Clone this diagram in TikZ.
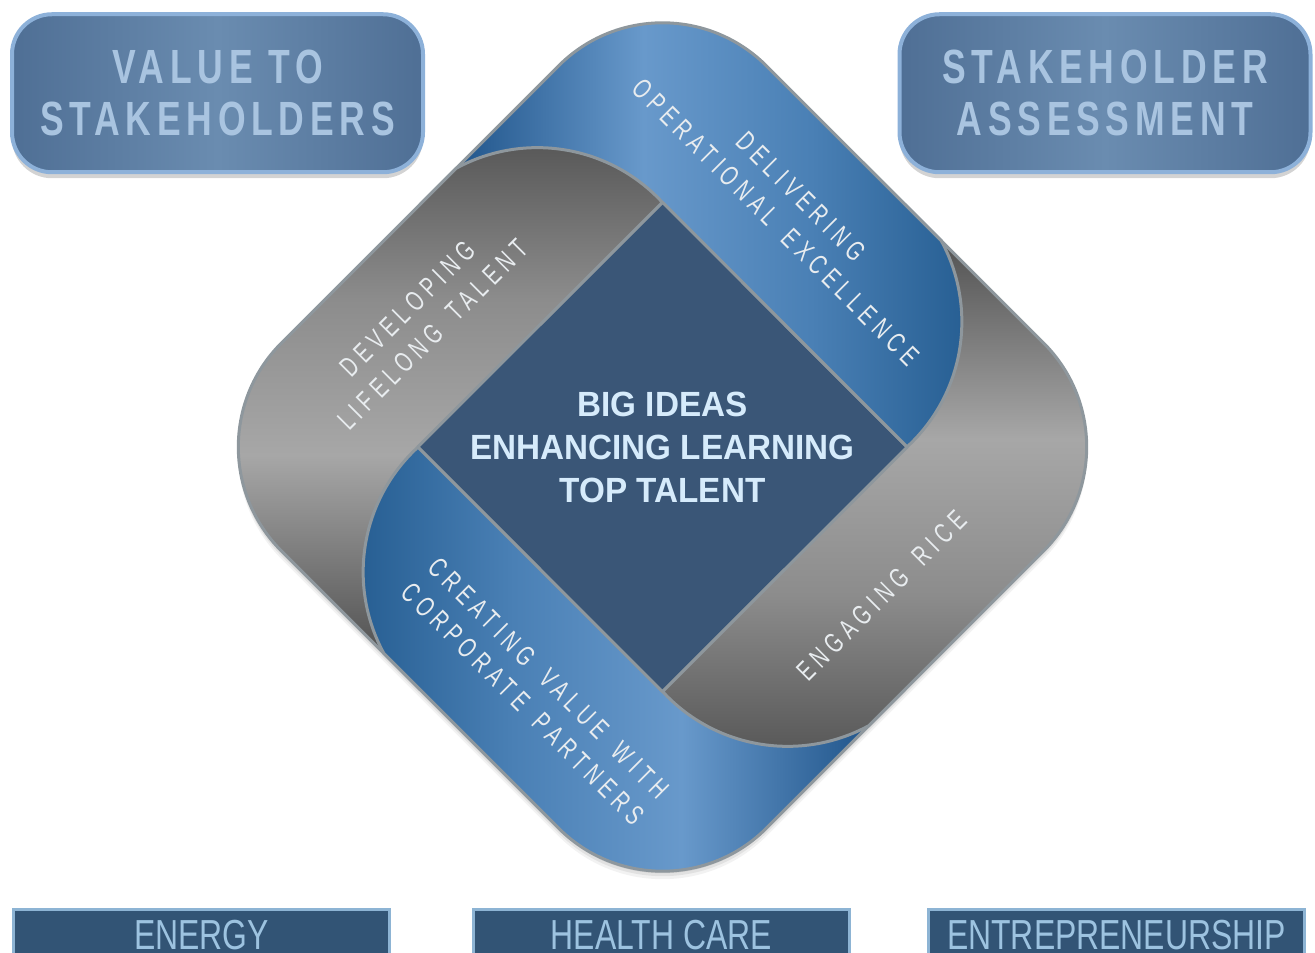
\documentclass[tikz,border=0pt]{standalone}
\usepackage{fontspec}
\setmainfont{Liberation Sans}
\newfontfamily\boxfont[FakeStretch=0.74,LetterSpace=12]{Liberation Sans}
\newfontfamily\beltfont[FakeStretch=0.7,LetterSpace=20,WordSpace=1.6]{Liberation Sans}
\newfontfamily\tagfont[FakeStretch=0.76]{Liberation Sans}
\newfontfamily\hubfont[FakeStretch=0.95]{Liberation Sans}
\usetikzlibrary{shadows}

\definecolor{squareblue}{HTML}{3A5677}
\definecolor{bdark}{HTML}{1B5086}
\definecolor{blight}{HTML}{6899CB}
\definecolor{bmid}{HTML}{4A80B5}
\definecolor{bend}{HTML}{245C90}
\definecolor{gdark}{HTML}{4C4C4C}
\definecolor{glight}{HTML}{A7A7A7}
\definecolor{gmid}{HTML}{8C8C8C}
\definecolor{gend}{HTML}{545454}
\definecolor{beltline}{HTML}{8E979D}
\definecolor{beltword}{HTML}{E8ECEF}
\definecolor{boxedge}{HTML}{8DB1D9}
\definecolor{boxword}{HTML}{A9C4E0}
\definecolor{boxside}{HTML}{4F6F95}
\definecolor{boxmid}{HTML}{6A8CB0}
\definecolor{tagfill}{HTML}{325475}
\definecolor{tagedge}{HTML}{8DB4D4}
\definecolor{tagword}{HTML}{9DC3E0}
\definecolor{hubword}{HTML}{D6EBFB}

\pgfdeclarehorizontalshading{bluebeltshade}{100bp}{color(0bp)=(bdark); color(27bp)=(bdark); color(45bp)=(blight); color(60bp)=(bmid); color(75bp)=(bend); color(100bp)=(bend)}
\pgfdeclarehorizontalshading{graybeltshade}{100bp}{color(0bp)=(gdark); color(27bp)=(gdark); color(46bp)=(glight); color(60bp)=(gmid); color(75bp)=(gend); color(100bp)=(gend)}
\pgfdeclarehorizontalshading{boxshade}{100bp}{color(0bp)=(boxside); color(25bp)=(boxside); color(50bp)=(boxmid); color(75bp)=(boxside); color(100bp)=(boxside)}

% one belt, drawn in its own frame: u along the side, v away from the hub
\newcommand{\beltpath}{(-343,0) -- (-343,196) arc[start angle=180,end angle=90,radius=147pt] -- (51,343) arc[start angle=73.6,end angle=-2.4,radius=170pt] -- (173,173) -- (-173,173) -- (-173,0) -- cycle}

\begin{document}
\begin{tikzpicture}[x=1pt,y=1pt]
\useasboundingbox (0,0) rectangle (1315,953);

\tikzstyle{bluebelt} = [draw=beltline, line width=3pt, line join=round, shading=bluebeltshade]
\tikzstyle{graybelt} = [draw=beltline, line width=3pt, line join=round, shading=graybeltshade]
\tikzstyle{beltlabel} = [transform shape, align=center, text=beltword, inner sep=0pt, font=\beltfont\fontsize{28}{36}\selectfont]
\tikzstyle{headbox} = [draw=boxedge, line width=4pt, rounded corners=40pt, shading=boxshade, minimum width=411pt, minimum height=158pt, align=center, text=boxword, font=\boxfont\bfseries\fontsize{48}{52}\selectfont, drop shadow={shadow xshift=0pt,shadow yshift=-6pt,opacity=0.35}]
\tikzstyle{tagbox} = [draw=tagedge, line width=3pt, fill=tagfill, minimum width=376pt, minimum height=51pt, text=tagword, font=\tagfont\fontsize{42}{48}\selectfont]

\coordinate (hub) at (662.5,506);

% soft shadow under the diamond
\foreach \d/\o in {2/0.10,5/0.07,8/0.05} {
  \begin{scope}[shift={(662.5,506-\d)},rotate=-45]
    \fill[black,opacity=\o,rounded corners=147pt] (-343,-343) rectangle (343,343);
  \end{scope}
}

% hub square and the four belts
\begin{scope}[shift={(hub)},rotate=-45]
  \fill[squareblue] (-173,-173) rectangle (173,173);
  \draw[bluebelt,shading angle=0] \beltpath;
\end{scope}
\begin{scope}[shift={(hub)},rotate=45]
  \draw[graybelt,shading angle=90] \beltpath;
\end{scope}
\begin{scope}[shift={(hub)},rotate=135]
  \draw[bluebelt,shading angle=180] \beltpath;
\end{scope}
\begin{scope}[shift={(hub)},rotate=-135]
  \draw[graybelt,shading angle=-90] \beltpath;
\end{scope}
% top belt once more, over the right corner
\begin{scope}[shift={(hub)},rotate=-45]
  \clip (-60,0) rectangle (400,400);
  \draw[bluebelt,shading angle=0] \beltpath;
\end{scope}

% belt labels
\begin{scope}[shift={(hub)},rotate=-45]
  \node (deliver) [beltlabel] at (-79,257) {DELIVERING\\OPERATIONAL EXCELLENCE};
\end{scope}
\begin{scope}[shift={(hub)},rotate=45]
  \node (develop) [beltlabel] at (-83,260) {DEVELOPING\\LIFELONG TALENT};
\end{scope}
\begin{scope}[shift={(hub)},rotate=135]
  \node (create) [beltlabel,rotate=180] at (-83,262) {CREATING VALUE WITH\\CORPORATE PARTNERS};
\end{scope}
\begin{scope}[shift={(hub)},rotate=-135]
  \node (engage) [beltlabel,rotate=180] at (-50,260) {ENGAGING RICE};
\end{scope}

\node (bigideas) [align=center, text=hubword, font=\hubfont\bfseries\fontsize{35}{43}\selectfont] at (hub) {BIG IDEAS\\ENHANCING LEARNING\\TOP TALENT};

% boxes
\node (valuebox) [headbox] at (217.5,859.75) {VALUE TO\\STAKEHOLDERS};
\node (assessbox) [headbox] at (1105,859.75) {STAKEHOLDER\\ASSESSMENT};

\node (energy) [tagbox] at (201.5,18) {ENERGY};
\node (health) [tagbox] at (661.5,18) {HEALTH CARE};
\node (entre) [tagbox] at (1116.5,18) {ENTREPRENEURSHIP};

\end{tikzpicture}
\end{document}
